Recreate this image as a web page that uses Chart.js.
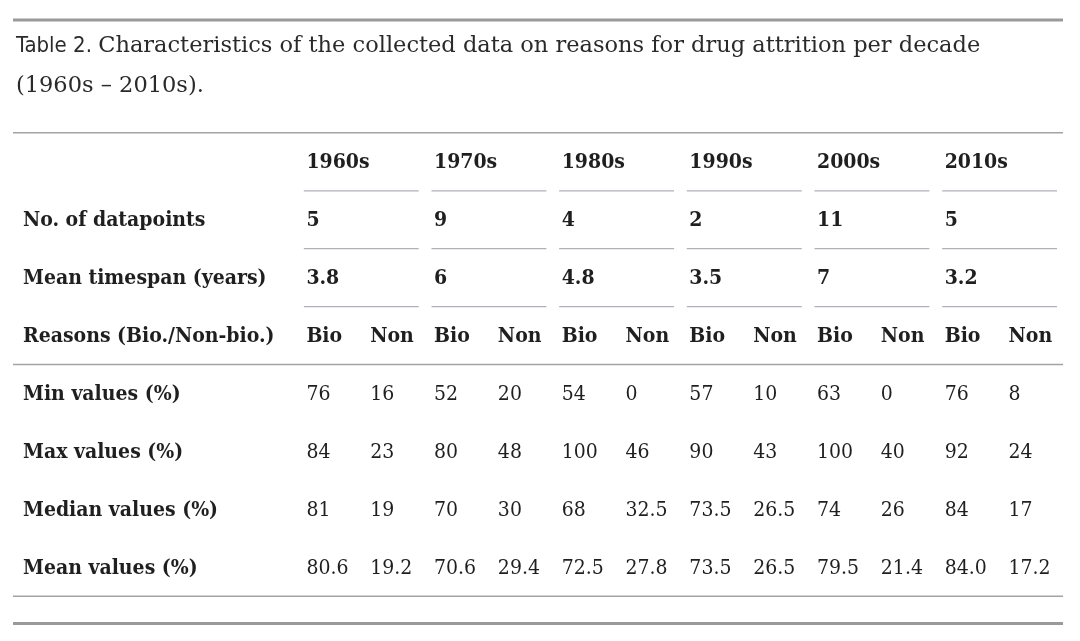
<!DOCTYPE html>
<html>
<head>
<meta charset="utf-8">
<script src="https://cdn.jsdelivr.net/npm/chart.js@4.4.1/dist/chart.umd.min.js"></script>
<style>
  html, body { margin: 0; padding: 0; background: #ffffff; }
  #wrap { position: relative; width: 1080px; height: 641px; }
</style>
</head>
<body>
<div id="wrap"><canvas id="c" aria-label="Table 2. Characteristics of the collected data on reasons for drug attrition per decade (1960s – 2010s)." role="img"></canvas></div>
<script>
// ---------- data ----------
const titleLabel = 'Table 2.';
const titleLine1 = 'Characteristics of the collected data on reasons for drug attrition per decade';
const titleLine2 = '(1960s – 2010s).';

const decades = ['1960s', '1970s', '1980s', '1990s', '2000s', '2010s'];
const rowLabels = ['No. of datapoints', 'Mean timespan (years)', 'Reasons (Bio./Non-bio.)',
                   'Min values (%)', 'Max values (%)', 'Median values (%)', 'Mean values (%)'];
const datapoints = ['5', '9', '4', '2', '11', '5'];
const meanTimespan = ['3.8', '6', '4.8', '3.5', '7', '3.2'];
const reasonLabels = ['Bio', 'Non'];

const bioMin = ['76', '52', '54', '57', '63', '76'];
const nonMin = ['16', '20', '0', '10', '0', '8'];
const bioMax = ['84', '80', '100', '90', '100', '92'];
const nonMax = ['23', '48', '46', '43', '40', '24'];
const bioMedian = ['81', '70', '68', '73.5', '74', '84'];
const nonMedian = ['19', '30', '32.5', '26.5', '26', '17'];
const bioMean = ['80.6', '70.6', '72.5', '73.5', '79.5', '84.0'];
const nonMean = ['19.2', '29.4', '27.8', '26.5', '21.4', '17.2'];

// ---------- layout (scale units: x = sub-column index, y = row index) ----------
const LABEL_COL = -4.44;
const statRows = [
  [bioMin, nonMin], [bioMax, nonMax], [bioMedian, nonMedian], [bioMean, nonMean]
];

const FONT_SERIF = '"DejaVu Serif Condensed", "DejaVu Serif", serif';
const FONT_TITLE = '"DejaVu Serif", serif';
const FONT_SANS = '"DejaVu Sans Condensed", "DejaVu Sans", sans-serif';
const TEXT = '#1f1f1f';

const tablePlugin = {
  id: 'tablePlugin',
  beforeDraw(chart) {
    const ctx = chart.ctx;
    ctx.save();
    ctx.fillStyle = '#ffffff';
    ctx.fillRect(0, 0, chart.width, chart.height);
    ctx.restore();
  },
  afterDraw(chart) {
    const ctx = chart.ctx;
    const X = v => chart.scales.x.getPixelForValue(v);
    const Y = v => chart.scales.y.getPixelForValue(v);
    const hline = (x0, x1, r, w, color) => {
      ctx.beginPath();
      ctx.strokeStyle = color;
      ctx.lineWidth = w;
      ctx.moveTo(X(x0), Y(r));
      ctx.lineTo(X(x1), Y(r));
      ctx.stroke();
    };
    const text = (s, c, r, font, color) => {
      ctx.font = font;
      ctx.fillStyle = color || TEXT;
      ctx.textAlign = 'left';
      ctx.textBaseline = 'alphabetic';
      ctx.fillText(s, X(c), Y(r));
    };
    ctx.save();

    // rules
    const FULL0 = -4.596, FULL1 = 11.854;
    hline(FULL0, FULL1, -2.56, 3, '#9a9a9a');
    hline(FULL0, FULL1, -0.61, 1.5, '#a3a3a3');
    hline(FULL0, FULL1, 3.39, 1.5, '#a3a3a3');
    hline(FULL0, FULL1, 7.39, 1.5, '#a3a3a3');
    hline(FULL0, FULL1, 7.86, 3, '#9a9a9a');
    for (let r = 0; r < 3; r++) {
      decades.forEach((d, i) => hline(2 * i - 0.04, 2 * i + 1.76, r + 0.39, 1.3, '#adb2b8'));
    }

    // title
    const TITLE_LBL = '22px ' + FONT_SANS;
    const TITLE_TXT = '22.5px ' + FONT_TITLE;
    ctx.font = TITLE_LBL;
    const tw = ctx.measureText(titleLabel + ' ').width;
    text(titleLabel, -4.55, -2.01, TITLE_LBL, '#2a2a2a');
    ctx.font = TITLE_TXT;
    ctx.fillStyle = '#2a2a2a';
    ctx.fillText(titleLine1, X(-4.55) + tw, Y(-2.01));
    text(titleLine2, -4.55, -1.31, TITLE_TXT, '#2a2a2a');

    const BOLD = 'bold 21px ' + FONT_SERIF;
    const REG = '21px ' + FONT_SERIF;

    // header
    decades.forEach((d, i) => text(d, 2 * i, 0, BOLD));
    // row labels
    rowLabels.forEach((l, j) => text(l, LABEL_COL, j + 1, BOLD));
    // datapoints & timespan
    datapoints.forEach((v, i) => text(v, 2 * i, 1, BOLD));
    meanTimespan.forEach((v, i) => text(v, 2 * i, 2, BOLD));
    // reasons
    decades.forEach((d, i) => reasonLabels.forEach((s, k) => text(s, 2 * i + k, 3, BOLD)));
    // stats
    statRows.forEach((pair, j) => {
      pair.forEach((arr, k) => arr.forEach((v, i) => text(v, 2 * i + k, 4 + j, REG)));
    });
    ctx.restore();
  }
};

new Chart(document.getElementById('c'), {
  type: 'scatter',
  data: { datasets: [] },
  options: {
    responsive: true,
    maintainAspectRatio: false,
    animation: false,
    layout: { padding: 0 },
    plugins: { legend: { display: false }, title: { display: false }, tooltip: { enabled: false } },
    scales: {
      x: { type: 'linear', min: -4.8, max: 12.12, display: false },
      y: { type: 'linear', reverse: true, min: -2.904, max: 8.163, display: false }
    }
  },
  plugins: [tablePlugin]
});
</script>
</body>
</html>
